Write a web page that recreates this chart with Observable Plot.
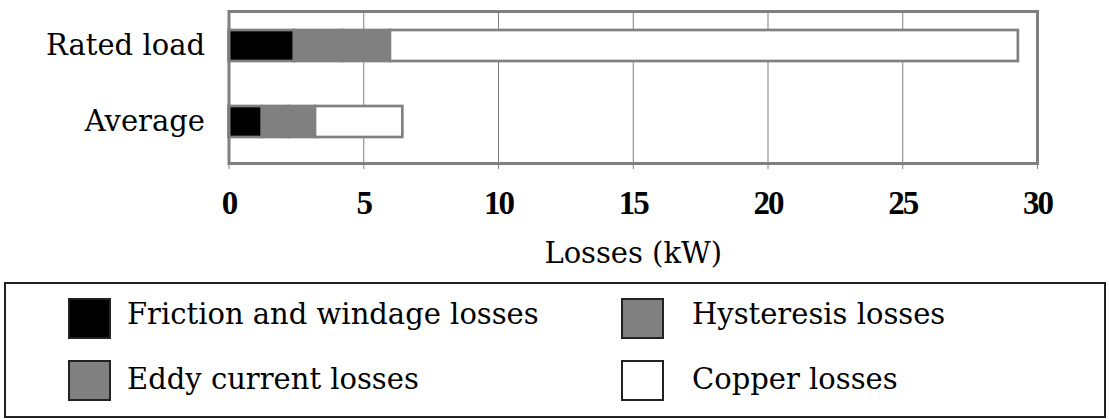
<!DOCTYPE html>
<html>
<head>
<meta charset="utf-8">
<script src="https://cdn.jsdelivr.net/npm/d3@7"></script>
<script src="https://cdn.jsdelivr.net/npm/@observablehq/plot@0.6"></script>
<style>
  html, body { margin: 0; padding: 0; background: #fff; }
  #chart svg { display: block; overflow: visible; }
  #chart g[aria-label="x-axis tick label"] text { letter-spacing: -2px; }
  #legend {
    position: relative; box-sizing: border-box;
    margin-left: 4px; margin-top: 5.5px;
    width: 1102px; height: 136px;
    border: 2px solid #222;
    font-family: "DejaVu Serif", serif; font-size: 29px; line-height: 29px; color: #000;
  }
  .sw { position: absolute; box-sizing: border-box; width: 43px; height: 41px; border: 2px solid #222; }
  .lb { position: absolute; white-space: nowrap; }
</style>
</head>
<body>
<div id="chart"></div>
<div id="legend"></div>
<script>
// ---- data ----
const categories = ["Rated load", "Average"];
const seriesNames = ["Friction and windage losses", "Hysteresis losses", "Eddy current losses", "Copper losses"];
const seriesColors = ["#000000", "#808080", "#808080", "#ffffff"];
const friction = [2.43, 1.24];
const hysteresis = [1.8, 1.0];
const eddy = [1.76, 0.97];
const copper = [23.3, 3.24];
const xTicks = [0, 5, 10, 15, 20, 25, 30];
const gridTicks = [5, 10, 15, 20, 25];
const xLabel = "Losses (kW)";

const seriesValues = [friction, hysteresis, eddy, copper];
const rows = [];
seriesNames.forEach((s, i) => categories.forEach((c, j) => rows.push({series: s, category: c, value: seriesValues[i][j]})));

const serif = "DejaVu Serif";
const chart = Plot.plot({
  width: 1109,
  height: 276,
  marginLeft: 228.5,
  marginRight: 72,
  marginTop: 11,
  marginBottom: 113,
  style: {background: "#fff", fontFamily: serif, color: "#000"},
  x: {domain: [0, 30]},
  y: {domain: categories, range: [29.7, 136.8], paddingInner: 0.592, paddingOuter: 0},
  color: {domain: seriesNames, range: seriesColors},
  marks: [
    Plot.ruleX(gridTicks, {stroke: "#808080", strokeWidth: 1}),
    Plot.barX(rows, {x: "value", y: "category", fill: "series", z: "series", stroke: "#808080", strokeWidth: 2.7}),
    Plot.frame({stroke: "#808080", strokeWidth: 3}),
    Plot.axisX({ticks: xTicks, tickSize: 6, tickPadding: 21, stroke: "#808080", fill: "#000",
      fontSize: 33, fontWeight: "bold", fontFamily: "Liberation Serif", label: null, tickFormat: d => String(d)}),
    Plot.axisY({tickSize: 0, tickPadding: 24, fontSize: 29, fontFamily: serif, fill: "#000", label: null}),
    Plot.text([xLabel], {text: d => d, frameAnchor: "bottom", lineAnchor: "bottom", dy: 99,
      fontSize: 29, fontFamily: serif, fill: "#000"})
  ]
});
document.getElementById("chart").appendChild(chart);

// ---- legend ----
const legend = document.getElementById("legend");
const pos = [
  {sx: 62, sy: 14.5, tx: 121, ty: 16.5},
  {sx: 615, sy: 14.5, tx: 686, ty: 16.5},
  {sx: 62, sy: 76.5, tx: 121, ty: 81.5},
  {sx: 615, sy: 76.5, tx: 686, ty: 81.5}
];
const legendOrder = [0, 1, 2, 3];
legendOrder.forEach((k, i) => {
  const p = pos[i];
  const sw = document.createElement("div");
  sw.className = "sw";
  sw.style.left = p.sx + "px"; sw.style.top = p.sy + "px";
  sw.style.background = seriesColors[k];
  legend.appendChild(sw);
  const lb = document.createElement("div");
  lb.className = "lb";
  lb.style.left = p.tx + "px"; lb.style.top = p.ty + "px";
  lb.textContent = seriesNames[k];
  legend.appendChild(lb);
});
</script>
</body>
</html>
